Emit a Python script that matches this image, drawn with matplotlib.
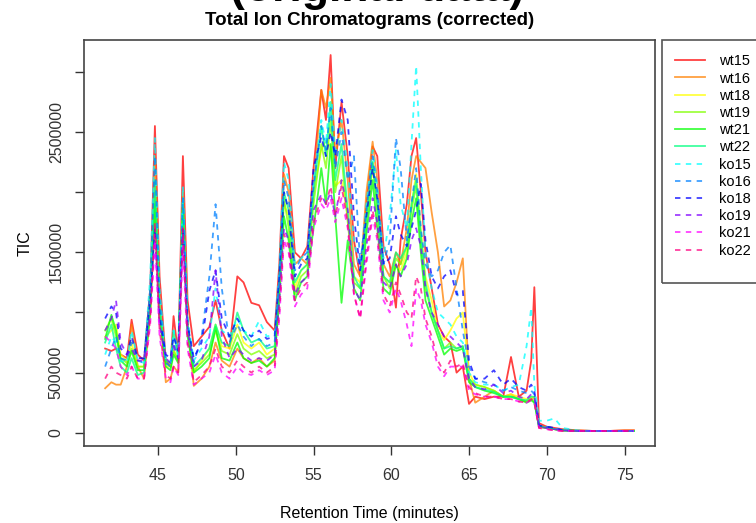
import numpy as np
import matplotlib
matplotlib.use("Agg")
import matplotlib.pyplot as plt
from matplotlib.patches import Rectangle

plt.rcParams['font.family'] = ['Liberation Sans', 'DejaVu Sans']

# retention time grid (minutes)
rt = [41.6, 42.0, 42.3, 42.6, 43.0, 43.3, 43.7, 44.1, 44.5, 44.8,
      45.1, 45.5, 45.8, 46.0, 46.3, 46.6, 46.9, 47.3, 47.8, 48.3,
      48.7, 49.1, 49.6, 50.1, 50.5, 51.0, 51.5, 52.0, 52.5, 52.8,
      53.1, 53.4, 53.8, 54.2, 54.6, 55.0, 55.5, 55.8, 56.1, 56.4,
      56.8, 57.2, 57.6, 58.0, 58.4, 58.8, 59.1, 59.5, 59.9, 60.3,
      60.6, 61.0, 61.3, 61.6, 61.9, 62.2, 62.6, 63.0, 63.4, 63.8,
      64.2, 64.6, 65.0, 65.4, 66.0, 66.6, 67.2, 67.7, 68.2, 68.7,
      69.0, 69.2, 69.5, 70.0, 70.5, 71.0, 72.0, 73.0, 74.0, 75.0, 75.6]

# TIC values in millions, one list per sample
wt15 = [0.70, 0.68, 0.70, 0.65, 0.62, 0.94, 0.65, 0.60, 1.20, 2.55,
        1.30, 0.60, 0.55, 0.97, 0.65, 2.30, 1.10, 0.72, 0.80, 0.88,
        1.10, 0.85, 0.70, 1.30, 1.25, 1.08, 1.06, 0.92, 0.85, 1.40,
        2.30, 2.20, 1.50, 1.45, 1.55, 2.20, 2.85, 2.60, 3.14, 2.20,
        2.75, 2.30, 1.60, 1.30, 1.90, 2.38, 2.30, 1.55, 1.40, 1.04,
        1.60, 1.90, 2.30, 2.45, 2.00, 1.50, 1.20, 0.90, 0.80, 0.75,
        0.50, 0.55, 0.24, 0.30, 0.28, 0.30, 0.30, 0.63, 0.30, 0.35,
        0.60, 1.21, 0.08, 0.05, 0.04, 0.03, 0.02, 0.015, 0.015, 0.02, 0.02]
wt16 = [0.37, 0.42, 0.40, 0.40, 0.55, 0.90, 0.55, 0.45, 1.00, 2.30,
        1.10, 0.42, 0.45, 0.55, 0.50, 2.00, 0.90, 0.39, 0.45, 0.55,
        0.75, 0.60, 0.55, 0.70, 0.62, 0.58, 0.62, 0.55, 0.60, 1.30,
        2.15, 2.00, 1.40, 1.45, 1.40, 2.00, 2.85, 2.70, 2.95, 2.30,
        2.60, 2.10, 1.40, 1.30, 2.00, 2.42, 2.10, 1.40, 1.30, 1.50,
        1.40, 1.70, 2.10, 2.30, 2.25, 2.20, 1.83, 1.50, 1.05, 1.10,
        1.25, 1.45, 0.45, 0.25, 0.30, 0.35, 0.30, 0.32, 0.28, 0.26,
        0.28, 0.30, 0.06, 0.04, 0.03, 0.02, 0.02, 0.015, 0.015, 0.02, 0.02]
wt18 = [0.80, 0.85, 0.90, 0.65, 0.60, 0.75, 0.55, 0.55, 1.00, 1.80,
        1.00, 0.55, 0.55, 0.70, 0.60, 1.80, 0.90, 0.50, 0.60, 0.70,
        0.90, 0.72, 0.70, 0.90, 0.75, 0.70, 0.75, 0.65, 0.70, 1.20,
        1.90, 1.80, 1.20, 1.35, 1.40, 2.00, 2.35, 2.43, 2.38, 2.05,
        2.10, 1.80, 1.30, 1.25, 1.80, 2.20, 1.90, 1.30, 1.25, 1.40,
        1.35, 1.50, 1.90, 2.15, 1.70, 1.30, 1.10, 0.85, 0.77, 0.85,
        0.95, 1.00, 0.50, 0.40, 0.38, 0.35, 0.30, 0.32, 0.30, 0.28,
        0.30, 0.28, 0.05, 0.04, 0.03, 0.02, 0.015, 0.015, 0.015, 0.015, 0.015]
wt19 = [0.85, 0.95, 0.80, 0.62, 0.58, 0.70, 0.55, 0.55, 1.10, 2.00,
        1.00, 0.58, 0.55, 0.68, 0.60, 1.90, 0.85, 0.52, 0.58, 0.65,
        0.85, 0.68, 0.65, 0.82, 0.70, 0.65, 0.68, 0.62, 0.65, 1.20,
        1.95, 1.70, 1.15, 1.30, 1.35, 1.90, 2.40, 2.20, 2.60, 2.00,
        2.30, 1.75, 1.25, 1.20, 1.75, 2.25, 1.85, 1.30, 1.20, 1.45,
        1.40, 1.55, 1.85, 2.05, 1.60, 1.20, 1.00, 0.85, 0.70, 0.75,
        0.70, 0.72, 0.45, 0.40, 0.38, 0.35, 0.30, 0.30, 0.28, 0.26,
        0.28, 0.26, 0.05, 0.04, 0.03, 0.02, 0.015, 0.015, 0.015, 0.015, 0.015]
wt21 = [0.78, 0.98, 0.85, 0.60, 0.55, 0.68, 0.52, 0.52, 1.00, 1.90,
        0.95, 0.55, 0.52, 0.65, 0.58, 1.85, 0.80, 0.50, 0.55, 0.62,
        0.88, 0.62, 0.60, 0.75, 0.62, 0.58, 0.60, 0.55, 0.62, 1.10,
        1.80, 1.60, 1.10, 1.25, 1.30, 1.70, 2.20, 1.90, 2.40, 1.80,
        1.08, 1.60, 1.20, 1.10, 1.65, 2.10, 1.70, 1.20, 1.15, 1.40,
        1.30, 1.45, 1.75, 1.95, 1.50, 1.10, 0.95, 0.80, 0.65, 0.70,
        0.68, 0.70, 0.42, 0.38, 0.35, 0.33, 0.30, 0.30, 0.28, 0.25,
        0.27, 0.25, 0.05, 0.04, 0.03, 0.02, 0.015, 0.015, 0.015, 0.015, 0.015]
wt22 = [0.75, 0.90, 0.70, 0.55, 0.50, 0.62, 0.48, 0.50, 1.10, 2.10,
        1.05, 0.60, 0.58, 0.85, 0.62, 1.95, 0.90, 0.55, 0.62, 0.70,
        0.90, 0.75, 0.72, 1.00, 0.85, 0.75, 0.78, 0.70, 0.72, 1.25,
        2.00, 1.85, 1.25, 1.35, 1.40, 2.00, 2.55, 2.30, 2.75, 2.10,
        2.40, 1.85, 1.30, 1.20, 1.80, 2.25, 1.90, 1.30, 1.25, 1.50,
        1.45, 1.55, 1.90, 2.10, 1.65, 1.25, 1.00, 0.85, 0.70, 0.72,
        0.70, 0.72, 0.45, 0.38, 0.36, 0.34, 0.30, 0.30, 0.28, 0.27,
        0.30, 0.30, 0.06, 0.04, 0.03, 0.02, 0.015, 0.015, 0.015, 0.015, 0.015]
ko15 = [0.65, 0.80, 0.75, 0.60, 0.58, 0.85, 0.60, 0.58, 1.30, 2.45,
        1.20, 0.60, 0.58, 0.85, 0.65, 2.05, 0.95, 0.60, 0.70, 0.80,
        1.20, 0.85, 0.80, 0.95, 0.85, 0.80, 0.93, 0.80, 0.82, 1.35,
        2.25, 2.10, 1.40, 1.45, 1.50, 2.10, 2.60, 2.40, 2.90, 2.30,
        2.60, 2.20, 1.60, 1.35, 1.90, 2.35, 2.05, 1.45, 1.80, 2.35,
        1.90, 1.70, 2.40, 3.05, 2.20, 1.50, 1.20, 1.00, 0.95, 0.90,
        0.80, 0.75, 0.50, 0.42, 0.40, 0.40, 0.35, 0.38, 0.40, 0.72,
        1.04, 0.40, 0.10, 0.10, 0.12, 0.04, 0.02, 0.015, 0.015, 0.015, 0.015]
ko16 = [0.55, 0.70, 0.80, 0.62, 0.60, 0.75, 0.60, 0.58, 1.20, 2.30,
        1.10, 0.58, 0.55, 0.75, 0.62, 1.95, 0.90, 0.58, 0.80, 1.30,
        1.90, 1.20, 0.75, 0.90, 0.80, 0.72, 0.78, 0.72, 0.75, 1.30,
        2.10, 1.95, 1.35, 1.45, 1.50, 2.05, 2.55, 2.35, 2.70, 2.20,
        2.50, 2.10, 2.30, 1.40, 1.85, 2.30, 2.00, 1.40, 1.60, 2.45,
        2.20, 1.60, 1.90, 2.20, 1.70, 1.40, 1.30, 1.35, 1.50, 1.56,
        1.20, 0.85, 0.55, 0.45, 0.42, 0.40, 0.35, 0.38, 0.35, 0.33,
        0.35, 0.32, 0.06, 0.05, 0.04, 0.02, 0.015, 0.015, 0.015, 0.015, 0.015]
ko18 = [0.95, 1.05, 1.00, 0.70, 0.65, 0.80, 0.62, 0.62, 1.10, 1.70,
        0.95, 0.65, 0.62, 0.80, 0.68, 1.70, 0.90, 0.62, 0.75, 1.18,
        1.35, 0.95, 0.80, 0.95, 0.85, 0.80, 0.85, 0.78, 0.80, 1.30,
        2.00, 1.85, 1.30, 1.40, 1.45, 2.20, 2.46, 2.30, 2.50, 2.30,
        2.77, 2.60, 1.80, 1.35, 1.80, 2.20, 1.95, 1.40, 1.45, 1.80,
        1.65, 1.55, 1.70, 1.85, 2.07, 1.60, 1.30, 1.20, 1.30, 1.35,
        1.15, 1.18, 0.60, 0.45, 0.45, 0.52, 0.40, 0.45, 0.38, 0.35,
        0.40, 0.35, 0.06, 0.05, 0.04, 0.02, 0.015, 0.015, 0.015, 0.015, 0.015]
ko19 = [0.85, 0.95, 1.10, 0.75, 0.65, 0.70, 0.60, 0.60, 1.00, 1.65,
        0.90, 0.62, 0.58, 0.72, 0.62, 1.65, 0.85, 0.55, 0.60, 0.80,
        1.35, 0.80, 0.62, 0.70, 0.65, 0.60, 0.62, 0.60, 0.65, 1.10,
        1.70, 1.60, 1.15, 1.25, 1.30, 1.85, 1.98, 1.90, 2.00, 1.80,
        2.10, 1.85, 1.20, 1.10, 1.55, 1.95, 1.75, 1.25, 1.20, 1.40,
        1.30, 1.40, 1.60, 1.70, 1.55, 1.20, 1.00, 0.90, 0.80, 0.80,
        0.75, 0.70, 0.45, 0.38, 0.36, 0.40, 0.33, 0.35, 0.30, 0.28,
        0.32, 0.30, 0.05, 0.04, 0.03, 0.02, 0.015, 0.015, 0.015, 0.015, 0.015]
ko21 = [0.80, 0.75, 0.70, 0.55, 0.48, 0.55, 0.45, 0.45, 0.90, 1.60,
        0.80, 0.45, 0.42, 0.55, 0.48, 1.55, 0.70, 0.40, 0.45, 0.50,
        0.65, 0.50, 0.45, 0.55, 0.50, 0.48, 0.52, 0.48, 0.52, 0.95,
        1.60, 1.50, 1.05, 1.15, 1.20, 1.70, 1.90, 1.85, 1.95, 1.75,
        1.95, 1.70, 1.15, 0.95, 1.40, 1.80, 1.60, 1.10, 1.00, 1.20,
        1.10, 0.90, 0.72, 1.20, 1.10, 0.90, 0.75, 0.55, 0.47, 0.55,
        0.55, 0.55, 0.35, 0.32, 0.30, 0.30, 0.28, 0.28, 0.26, 0.25,
        0.27, 0.25, 0.04, 0.03, 0.02, 0.015, 0.015, 0.015, 0.015, 0.015, 0.015]
ko22 = [0.45, 0.55, 0.50, 0.48, 0.45, 0.55, 0.45, 0.45, 0.95, 1.75,
        0.85, 0.48, 0.45, 0.55, 0.50, 1.70, 0.75, 0.42, 0.48, 0.55,
        0.70, 0.55, 0.50, 0.60, 0.55, 0.50, 0.55, 0.50, 0.55, 1.00,
        1.65, 1.55, 1.10, 1.20, 1.25, 1.75, 1.95, 1.90, 2.05, 1.80,
        2.05, 1.75, 1.15, 0.95, 1.45, 1.85, 1.65, 1.15, 1.05, 1.25,
        1.15, 1.00, 0.95, 1.30, 1.20, 0.95, 0.80, 0.60, 0.50, 0.60,
        0.55, 0.58, 0.38, 0.33, 0.30, 0.30, 0.28, 0.28, 0.26, 0.25,
        0.28, 0.26, 0.04, 0.03, 0.02, 0.015, 0.015, 0.015, 0.015, 0.015, 0.015]

samples = ["wt15", "wt16", "wt18", "wt19", "wt21", "wt22",
           "ko15", "ko16", "ko18", "ko19", "ko21", "ko22"]
series = [wt15, wt16, wt18, wt19, wt21, wt22, ko15, ko16, ko18, ko19, ko21, ko22]
# R rainbow(12)
colors = ["#FF0000", "#FF8000", "#FFFF00", "#80FF00", "#00FF00", "#00FF80",
          "#00FFFF", "#0080FF", "#0000FF", "#8000FF", "#FF00FF", "#FF0080"]

W, H = 756, 523
fig = plt.figure(figsize=(W / 100, H / 100), dpi=100)
ax = fig.add_axes([84 / W, 77 / H, 571 / W, 406 / H])

for name, vals, col in zip(samples, series, colors):
    ls = '-' if name.startswith('wt') else (0, (3, 3))
    ax.plot(rt, np.array(vals) * 1e6, color=col, ls=ls, lw=1.3, alpha=0.75, label=name)

ax.margins(x=0.04, y=0.04)
ax.set_xticks([45, 50, 55, 60, 65, 70, 75])
yt = [0, 500000, 1000000, 1500000, 2000000, 2500000, 3000000]
ax.set_yticks(yt)
ax.set_yticklabels(["0", "500000", "", "1500000", "", "2500000", ""],
                   rotation=90, va='center')
ax.tick_params(direction='out', length=6.5, width=1, labelsize=11.5, colors='#333333')
ax.tick_params(axis='x', pad=9)
ax.tick_params(axis='y', pad=8)
for s in ax.spines.values():
    s.set_color('#444444')
    s.set_linewidth(1.2)

ax.set_xlabel('Retention Time (minutes)', fontsize=11.5)
ax.xaxis.set_label_coords(0.5, -0.148)
ax.set_ylabel('TIC', fontsize=11.5)
ax.yaxis.set_label_coords(-0.09, 0.5)
ax.set_title('Total Ion Chromatograms (corrected)', fontsize=13.5, fontweight='bold', pad=11)

# legend box (runs off the right edge like the original)
fig.patches.append(Rectangle((662 / W, 1 - 283 / H), 110 / W, 243 / H,
                             transform=fig.transFigure, fill=False,
                             edgecolor='#555555', lw=1.2, clip_on=False))
leg = fig.legend(loc='upper left', bbox_to_anchor=(671 / W, 1 - 50 / H),
                 fontsize=10.5, handlelength=2.0, handletextpad=1.0,
                 labelspacing=0.22, borderpad=0.3, frameon=False, borderaxespad=0)

# cut-off heading above the chart: baseline just inside the top edge,
# so only the bottom of the letters shows
fig.text(377 / W, 1 - 1.5 / H, '(original data)', fontsize=32, fontweight='bold',
         ha='center', va='baseline')

fig.savefig('out.png', dpi=100)
